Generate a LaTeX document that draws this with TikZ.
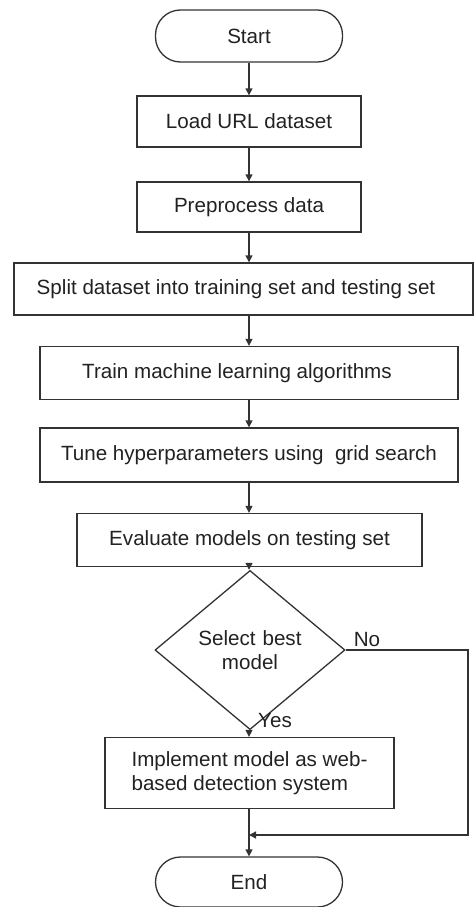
\documentclass[tikz,border=0pt]{standalone}
\usepackage{fontspec}
\setmainfont{Liberation Sans}
\usetikzlibrary{shapes.geometric,arrows.meta}
\definecolor{ln}{HTML}{333333}
\definecolor{tx}{HTML}{222222}
\begin{document}
\begin{tikzpicture}[x=1pt,y=-1pt,
  every node/.style={text=tx, font=\fontsize{20.6}{24}\selectfont},
  box/.style={draw=ln, line width=1.3pt, rectangle, inner sep=0pt},
  term/.style={draw=ln, line width=1.3pt, rectangle, rounded corners=25pt, inner sep=0pt, minimum width=187pt},
  dec/.style={draw=ln, line width=1.3pt, diamond, inner sep=0pt, minimum width=190pt, minimum height=114pt, align=center},
  arr/.style={draw=ln, line width=1.3pt, -{Triangle[length=7pt,width=7pt]}},
  lbl/.style={inner sep=0pt}]
\useasboundingbox (0,0) rectangle (474,907);
\node[term, minimum height=52pt] (start) at (249,36) {Start};
\node[box, minimum width=224pt, minimum height=51pt] (load) at (249,121.5) {Load URL dataset};
\node[box, minimum width=224pt, minimum height=50pt] (prep) at (249,207) {Preprocess data};
\node[box, minimum width=459pt, minimum height=52pt] (split) at (243.5,289) {Split dataset into training set and testing set\hspace*{15pt}};
\node[box, minimum width=418pt, minimum height=53pt] (train) at (249,373) {Train machine learning algorithms\hspace*{24pt}};
\node[box, minimum width=418pt, minimum height=54pt] (tune) at (249,455) {Tune hyperparameters using\ \ grid search};
\node[box, minimum width=345pt, minimum height=53pt] (eval) at (249.5,540) {Evaluate models on testing set};
\node[dec, text width=120pt] (sel) at (250,650) {Select best\\model};
\node[box, minimum width=289pt, minimum height=71pt, align=left] (impl) at (249.5,773) {Implement model as web-\\based detection system};
\node[term, minimum height=50pt] (end) at (249,882) {End};
\node[lbl] (no) at (367,640) {No};
\node[lbl] (yes) at (275,721) {Yes};
\coordinate (ax) at (249,0);
\coordinate (nr) at (468,835);
\coordinate (j) at (249,835);
\draw[arr] (start.south -| ax) -- (load.north -| ax);
\draw[arr] (load.south -| ax) -- (prep.north -| ax);
\draw[arr] (prep.south -| ax) -- (split.north -| ax);
\draw[arr] (split.south -| ax) -- (train.north -| ax);
\draw[arr] (train.south -| ax) -- (tune.north -| ax);
\draw[arr] (tune.south -| ax) -- (eval.north -| ax);
\draw[arr] (eval.south -| ax) -- (sel.north -| ax);
\draw[arr] (sel.south -| ax) -- (impl.north -| ax);
\draw[arr] (impl.south -| ax) -- (end.north -| ax);
\draw[arr] (sel.east) -- (sel.east -| nr) -- (nr) -- (j);
\end{tikzpicture}
\end{document}
